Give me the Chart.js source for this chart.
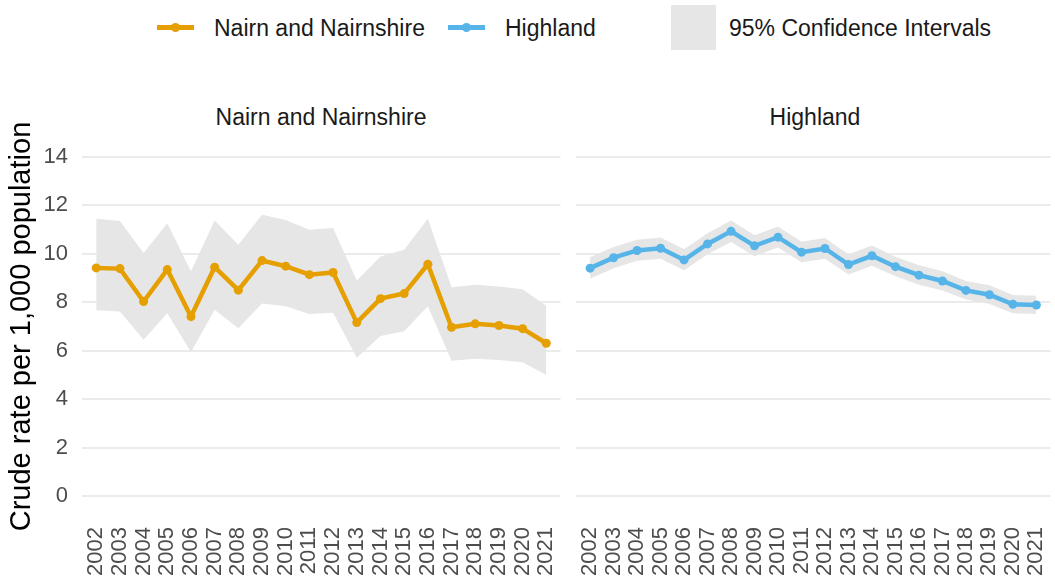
<!DOCTYPE html>
<html lang="en">
<head>
    <meta charset="UTF-8">
    <title>Crude rate per 1,000 population</title>
    <script src="https://cdn.jsdelivr.net/npm/chart.js"></script>
    <style>
        body { margin: 0; width: 1055px; height: 585px; position: relative; background: #fff; overflow: hidden;
               font-family: "Liberation Sans", Arial, sans-serif; }
        .abs { position: absolute; }
        .txt { font-size: 23px; line-height: 26px; color: #1a1a1a; white-space: nowrap; }
        .key { position: absolute; height: 5px; }
        .dot { position: absolute; width: 9px; height: 9px; border-radius: 50%; }
        canvas { position: absolute; top: 0; }
    </style>
</head>
<body>

<!-- legend -->
<div class="key" style="left:157px; top:25px; width:37px; background:#E69F00"></div>
<div class="dot" style="left:171px; top:23px; background:#E69F00"></div>
<div class="abs txt" style="left:214px; top:15px">Nairn and Nairnshire</div>
<div class="key" style="left:448px; top:25px; width:37px; background:#56B4E9"></div>
<div class="dot" style="left:462px; top:23px; background:#56B4E9"></div>
<div class="abs txt" style="left:505px; top:15px">Highland</div>
<div class="abs" style="left:671px; top:5px; width:45px; height:45px; background:#e6e6e6"></div>
<div class="abs txt" style="left:729px; top:15px">95% Confidence Intervals</div>

<!-- facet strips -->
<div class="abs txt" style="left:121px; width:400px; text-align:center; top:104px">Nairn and Nairnshire</div>
<div class="abs txt" style="left:615px; width:400px; text-align:center; top:104px">Highland</div>

<canvas id="leftChart" width="565" height="585" style="left:0; width:565px; height:585px"></canvas>
<canvas id="rightChart" width="487" height="585" style="left:568px; width:487px; height:585px"></canvas>

<script>
    const years = [2002, 2003, 2004, 2005, 2006, 2007, 2008, 2009, 2010, 2011,
                   2012, 2013, 2014, 2015, 2016, 2017, 2018, 2019, 2020, 2021];
    const yTicks = [0, 2, 4, 6, 8, 10, 12, 14];

    const nairnRate  = [9.42, 9.39, 8.03, 9.35, 7.41, 9.45, 8.50, 9.72, 9.49, 9.14,
                        9.23, 7.16, 8.15, 8.36, 9.57, 6.97, 7.11, 7.04, 6.91, 6.31];
    const nairnUpper = [11.45, 11.36, 10.03, 11.26, 9.28, 11.38, 10.38, 11.61, 11.40, 10.99,
                        11.07, 8.90, 9.89, 10.17, 11.45, 8.62, 8.72, 8.65, 8.54, 7.86];
    const nairnLower = [7.67, 7.62, 6.45, 7.55, 5.95, 7.69, 6.93, 7.95, 7.84, 7.52,
                        7.57, 5.71, 6.61, 6.80, 7.84, 5.59, 5.67, 5.62, 5.52, 5.00];

    const highRate  = [9.41, 9.84, 10.14, 10.23, 9.75, 10.41, 10.93, 10.33, 10.69, 10.07,
                       10.22, 9.56, 9.92, 9.47, 9.12, 8.88, 8.49, 8.31, 7.92, 7.89];
    const highUpper = [9.86, 10.28, 10.58, 10.67, 10.19, 10.85, 11.38, 10.77, 11.13, 10.50,
                       10.65, 9.98, 10.34, 9.88, 9.53, 9.28, 8.88, 8.70, 8.30, 8.27];
    const highLower = [8.97, 9.40, 9.71, 9.80, 9.32, 9.98, 10.49, 9.90, 10.26, 9.65,
                       9.80, 9.15, 9.51, 9.07, 8.72, 8.49, 8.11, 7.93, 7.55, 7.52];

    const orange = '#E69F00';
    const blue = '#56B4E9';
    const band = '#e6e6e6';
    const fontFamily = '"Liberation Sans", Arial, sans-serif';

    function pts(values) {
        return years.map((yr, i) => ({ x: yr, y: values[i] }));
    }

    function makeChart(id, rate, upper, lower, colour, isLeft) {
        const ctx = document.getElementById(id).getContext('2d');
        return new Chart(ctx, {
            type: 'line',
            data: {
                datasets: [
                    {
                        data: pts(rate),
                        borderColor: colour,
                        backgroundColor: colour,
                        borderWidth: 4.5,
                        pointRadius: 4.5,
                        pointBorderWidth: 0,
                        pointBackgroundColor: colour,
                        fill: false,
                        tension: 0
                    },
                    {
                        data: pts(upper),
                        borderWidth: 0,
                        pointRadius: 0,
                        backgroundColor: band,
                        fill: '+1',
                        tension: 0
                    },
                    {
                        data: pts(lower),
                        borderWidth: 0,
                        pointRadius: 0,
                        backgroundColor: band,
                        fill: false,
                        tension: 0
                    }
                ]
            },
            options: {
                responsive: false,
                animation: false,
                events: [],
                layout: { padding: { top: 140, right: isLeft ? 4 : 1, left: 0, bottom: 0 } },
                plugins: {
                    legend: { display: false },
                    tooltip: { enabled: false }
                },
                scales: {
                    x: {
                        type: 'linear',
                        min: 2001.4,
                        max: 2021.6,
                        afterBuildTicks: axis => { axis.ticks = years.map(v => ({ value: v })); },
                        afterFit: axis => {
                            axis.height = 72;
                            axis.paddingLeft = 0;
                            axis.paddingRight = 0;
                        },
                        grid: { display: false, drawTicks: false },
                        border: { display: false },
                        ticks: {
                            autoSkip: false,
                            minRotation: 90,
                            maxRotation: 90,
                            padding: 14,
                            color: '#4d4d4d',
                            font: { family: fontFamily, size: 22 },
                            callback: v => String(v)
                        }
                    },
                    y: {
                        min: -0.7,
                        max: 14.7,
                        afterBuildTicks: axis => { axis.ticks = yTicks.map(v => ({ value: v })); },
                        afterFit: axis => {
                            axis.width = isLeft ? 82 : 8;
                            axis.paddingTop = 0;
                            axis.paddingBottom = 0;
                        },
                        grid: { color: '#ebebeb', lineWidth: 2, drawTicks: false },
                        border: { display: false },
                        ticks: {
                            display: isLeft,
                            padding: 14,
                            color: '#4d4d4d',
                            font: { family: fontFamily, size: 22 }
                        },
                        title: {
                            display: isLeft,
                            text: 'Crude rate per 1,000 population',
                            color: '#000',
                            font: { family: fontFamily, size: 29 },
                            padding: { top: 5, bottom: 0 }
                        }
                    }
                }
            }
        });
    }

    makeChart('leftChart', nairnRate, nairnUpper, nairnLower, orange, true);
    makeChart('rightChart', highRate, highUpper, highLower, blue, false);
</script>
</body>
</html>
